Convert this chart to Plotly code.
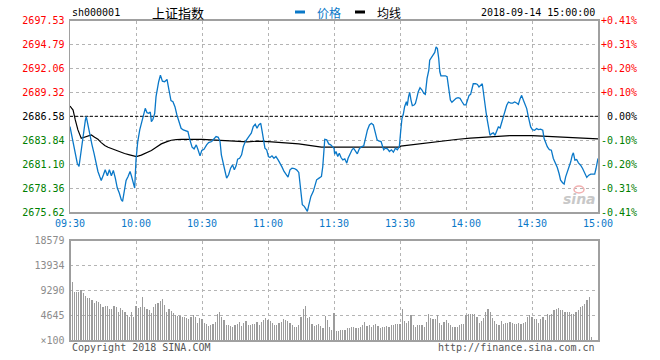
import plotly.graph_objects as go

# ---------------- data ----------------
prev_close = 2686.58
price_ticks = [2675.62, 2678.36, 2681.10, 2683.84, 2686.58, 2689.32, 2692.06, 2694.79, 2697.53]
price_labels = ["2675.62", "2678.36", "2681.10", "2683.84", "2686.58", "2689.32", "2692.06", "2694.79", "2697.53"]
pct_labels = ["-0.41%", "-0.31%", "-0.20%", "-0.10%", "\u00a00.00%", "+0.10%", "+0.20%", "+0.31%", "+0.41%"]
time_ticks = [0, 30, 60, 90, 120, 150, 180, 210, 240]
time_labels = ["09:30", "10:00", "10:30", "11:00", "11:30", "13:30", "14:00", "14:30", "15:00"]
vol_ticks = [0, 4645, 9290, 13934, 18579]
vol_labels = ["×100", "4645", "9290", "13934", "18579"]

# price line (minutes since 09:30 on the trading clock, price)
price_t = [0, 1.4, 2.4, 3.3, 4.1, 4.7, 5.5, 6.2, 7.0, 7.4, 8.2, 9.1, 10, 10.9, 11.8, 12.7, 13.6, 14.2,
           15.2, 16, 17, 17.9, 18.8, 19.7, 20.6, 21.5, 22.4, 23.3, 23.9, 24.5, 25.5, 26.4, 27.3, 27.9,
           28.8, 29.4, 30, 30.8, 31.7, 32.6, 33.5, 34.2, 35, 35.8, 36.5, 37, 37.7, 38.5, 39.1, 39.7,
           40.3, 41.1, 42, 43, 44.1, 45, 45.9, 46.8, 47.7, 48.6, 49.5, 50.5, 51.5, 52.6, 53.6, 54.5,
           55.5, 56.4, 57.4, 58.2, 59.1, 59.9, 60.9, 62.1, 63, 64.4, 65.5, 66.4, 67.4, 68.2, 68.8,
           69.7, 70.5, 71.2, 72.1, 73, 73.9, 74.7, 75.5, 76.2, 77.1, 78, 78.8, 79.7, 80.6, 81.5, 82.4,
           83.3, 84.2, 85, 85.8, 86.7, 87.3, 87.9, 88.6, 89.4, 90.2, 90.9, 91.8, 92.7, 93.6, 94.6,
           95.5, 96.4, 97.3, 98.2, 99.1, 100, 100.9, 102, 103, 104, 104.6, 105, 105.6, 106.5, 107.3,
           107.9, 108.6, 109.5, 110.6, 111.4, 112.1, 113.2, 114.3, 114.9, 115.3, 115.8, 116.7, 117.6,
           118.5, 119.4, 120, 120.3, 120.9, 121.7, 122.4, 123.2, 124, 124.9, 125.8, 126.4, 127.3,
           128.2, 128.9, 129.7, 130.6, 131.5, 132.4, 133.5, 134.3, 135.2, 136.1, 137, 137.9, 138.8,
           139.6, 140.3, 141.4, 142.1, 142.6, 143.3, 144.3, 145.2, 146.1, 147, 147.9, 148.8, 149.7,
           150.3, 150.9, 151.5, 152.1, 152.9, 153.3, 153.9, 154.4, 155, 155.6, 156.4, 157, 157.6,
           158.3, 159.1, 160, 160.8, 161.5, 162.3, 163.1, 163.5, 164.3, 165, 165.8, 166.4, 167,
           167.6, 168.1, 168.6, 170.6, 171.4, 172.1, 172.9, 173.6, 174.6, 175.5, 176.4, 177.3, 178.2,
           179.1, 180, 180.6, 181.4, 182.1, 182.9, 183.3, 184.4, 185.2, 185.9, 186.7, 187.4, 187.9,
           188.5, 189.1, 189.7, 190.3, 190.9, 191.7, 192.4, 193.2, 193.9, 194.7, 195.5, 196.2, 197,
           197.7, 198.5, 199.3, 200.3, 201.2, 202.1, 203, 203.8, 204.6, 205.3, 206.1, 206.8, 207.6,
           208.3, 208.9, 209.4, 210.2, 211.2, 212.1, 213, 213.9, 214.9, 215.5, 216.2, 217, 217.9,
           218.8, 219.7, 220.6, 221.5, 222.3, 223, 223.9, 224.6, 225.3, 226.1, 226.8, 227.6, 228.3,
           228.8, 229.5, 230.3, 231.1, 232.1, 233, 234, 234.9, 235.8, 236.7, 237.6, 238.5, 239.1,
           239.7, 240]
price_v = [2685.40, 2683.69, 2682.36, 2681.21, 2680.83, 2681.97, 2683.50, 2685.02, 2686.16, 2686.54,
           2685.40, 2684.45, 2683.31, 2682.36, 2681.21, 2680.26, 2679.62, 2679.23, 2679.88, 2680.45,
           2679.77, 2680.45, 2679.77, 2680.38, 2679.50, 2678.36, 2677.79, 2677.03, 2676.84, 2677.98,
           2679.23, 2679.69, 2680.26, 2679.77, 2678.85, 2678.36, 2681.59, 2683.69, 2685.02, 2685.97,
           2686.92, 2687.49, 2687.00, 2686.92, 2687.07, 2685.97, 2686.24, 2686.92, 2688.83, 2689.89,
           2690.54, 2691.30, 2690.61, 2690.54, 2690.80, 2689.59, 2688.37, 2688.25, 2687.68, 2686.73,
           2686.09, 2685.21, 2685.02, 2684.94, 2684.83, 2683.88, 2683.04, 2682.85, 2683.31, 2682.74,
           2682.05, 2682.66, 2682.81, 2683.31, 2683.57, 2683.69, 2683.95, 2684.26, 2684.18, 2683.69,
           2682.17, 2680.91, 2680.26, 2679.50, 2679.88, 2680.64, 2681.02, 2680.45, 2680.91, 2681.67,
           2681.78, 2682.17, 2683.12, 2683.69, 2684.07, 2684.34, 2684.64, 2685.40, 2685.67, 2685.21,
           2685.59, 2685.78, 2684.91, 2683.69, 2682.93, 2682.74, 2681.97, 2681.86, 2682.05, 2681.78,
           2681.97, 2681.59, 2681.21, 2680.76, 2680.26, 2679.88, 2679.62, 2680.45, 2680.64, 2680.60,
           2680.45, 2680.15, 2678.63, 2677.79, 2676.46, 2676.27, 2675.96, 2675.70, 2676.46, 2677.41,
           2677.98, 2678.74, 2679.31, 2679.50, 2679.69, 2680.83, 2681.97, 2683.95, 2683.88, 2683.42,
           2683.31, 2683.12, 2682.93, 2682.24, 2682.55, 2681.97, 2682.36, 2681.86, 2681.59, 2681.71,
           2681.21, 2681.78, 2682.36, 2682.74, 2682.93, 2682.55, 2682.28, 2682.85, 2683.08, 2683.19,
           2684.26, 2685.02, 2685.59, 2685.78, 2685.59, 2684.83, 2683.88, 2683.76, 2683.69, 2683.12,
           2682.74, 2682.93, 2682.85, 2682.55, 2682.74, 2682.47, 2682.93, 2682.74, 2683.12, 2684.83,
           2686.35, 2686.81, 2687.68, 2688.25, 2687.80, 2688.83, 2689.32, 2688.44, 2687.80, 2687.87,
           2688.06, 2688.64, 2689.40, 2689.85, 2689.59, 2689.21, 2689.09, 2690.92, 2691.87, 2693.01,
           2693.28, 2693.51, 2693.89, 2694.53, 2694.34, 2693.20, 2691.68, 2691.22, 2691.22, 2691.11,
           2689.78, 2688.44, 2688.18, 2688.44, 2688.64, 2688.71, 2688.64, 2688.25, 2687.90, 2687.90,
           2688.33, 2688.98, 2689.09, 2689.85, 2690.31, 2690.31, 2690.23, 2689.93, 2690.12, 2690.31,
           2689.36, 2687.84, 2687.07, 2686.12, 2685.06, 2684.41, 2684.60, 2684.68, 2684.41, 2684.98,
           2685.36, 2685.25, 2685.82, 2686.50, 2687.26, 2687.84, 2688.22, 2688.10, 2688.10, 2688.22,
           2688.10, 2687.95, 2688.60, 2688.98, 2688.41, 2687.84, 2687.46, 2686.58, 2685.93, 2685.36,
           2685.06, 2684.98, 2685.17, 2685.06, 2685.10, 2684.98, 2684.03, 2683.54, 2683.08, 2682.77,
           2682.70, 2681.75, 2681.25, 2680.72, 2680.03, 2679.27, 2678.97, 2678.82, 2679.65, 2680.22,
           2680.72, 2681.37, 2682.13, 2682.39, 2681.56, 2681.63, 2681.25, 2680.98, 2680.60, 2680.11,
           2679.58, 2679.84, 2679.96, 2679.96, 2679.96, 2680.60, 2681.37, 2681.75]

# average price line
avg_t = [0, 1.4, 2.4, 3.6, 5.1, 6.7, 8.2, 9.7, 11.2, 12.7, 14.2, 15.8, 17.3, 18.8, 20.3, 22.6, 24.8,
         27.1, 29.4, 30.2, 32.4, 34.7, 37, 39.2, 41.5, 43.8, 46, 48.3, 50.6, 60, 65.5, 74.7, 80.6,
         85, 90.2, 97.3, 104, 109.5, 114.3, 120, 149.7, 150.3, 157, 163.5, 170.6, 176.4, 182, 186,
         190, 200, 210, 220, 230, 240]
avg_v = [2687.76, 2687.30, 2686.16, 2685.02, 2684.07, 2684.18, 2684.34, 2684.45, 2684.18, 2683.95,
         2683.57, 2683.23, 2683.04, 2682.89, 2682.74, 2682.51, 2682.32, 2682.17, 2682.05, 2681.97,
         2682.13, 2682.36, 2682.66, 2683.04, 2683.42, 2683.65, 2683.84, 2683.92, 2683.95, 2683.93,
         2683.88, 2683.73, 2683.65, 2683.73, 2683.69, 2683.57, 2683.42, 2683.23, 2683.04, 2683.04,
         2683.04, 2683.16, 2683.38, 2683.61, 2683.80, 2683.95, 2684.07, 2684.14, 2684.22, 2684.37,
         2684.37, 2684.22, 2684.11, 2684.00]

# per-minute volume (x100 shares), minute 0 .. 240
volume = [18579,
          10910, 9040, 9040, 9040, 9350, 8850, 8290, 7920, 7920, 7480,
          6980, 7290, 7170, 6730, 6110, 6420, 6420, 5740, 5740, 6360,
          6110, 5170, 5920, 5610, 5300, 4680, 4240, 5300, 4240, 6360,
          6050, 6230, 8100, 6230, 5800, 5610, 4990, 6110, 6730, 6980,
          7290, 7670, 6550, 5300, 5800, 5420, 4990, 4680, 4490, 4490,
          4240, 4240, 4050, 3870, 4360, 4610, 4360, 3120, 4050, 3870,
          3240, 2930, 2620, 2810, 2930, 3430, 4800, 5300, 4240, 3740,
          2810, 2810, 2680, 2490, 2810, 2990, 3430, 2620, 3120, 3620,
          2810, 2810, 2990, 2930, 3430, 2810, 3430, 3740, 4050, 3740,
          3550, 3120, 2810, 2810, 3120, 3430, 3870, 3740, 3620, 3240,
          2810, 2490, 2490, 2810, 4240, 5800, 6360, 4050, 4240, 2930,
          2620, 2810, 2930, 2620, 2310, 4550, 3740, 2370, 1870, 5110,
          1750, 1750, 1870, 1870, 1870, 2180, 2310, 2370, 2370, 2180,
          2180, 2370, 2810, 3300, 2680, 2810, 2370, 2810, 2990, 2620,
          2180, 2370, 2490, 2680, 2370, 2810, 2810, 2930, 2930, 2990,
          5800, 3620, 3240, 3620, 4680, 2810, 2370, 2810, 2810, 2810,
          2370, 3430, 4800, 4050, 3870, 3870, 4680, 3120, 2810, 3430,
          3740, 3240, 2810, 2490, 2370, 2490, 2810, 2930, 2990, 4680,
          4860, 4860, 4860, 4860, 4300, 3240, 3620, 4050, 5300, 5800,
          5300, 4050, 3620, 2990, 2810, 3620, 2990, 3240, 3120, 3430,
          3240, 2990, 2990, 3240, 2990, 3120, 3430, 4240, 4680, 4240,
          3870, 3870, 3240, 3870, 4240, 3740, 4860, 4680, 4860, 5610,
          5740, 5920, 5610, 5610, 5300, 5300, 5300, 4800, 4800, 5300,
          5610, 6230, 6420, 6730, 7480, 8100, 620, 0, 0, 0]
vol_t = list(range(len(volume)))

# ---------------- styling ----------------
BLUE = "#0a78c8"
RED = "#ff0000"
GREEN = "#008000"
GRID = "#b4b4b4"
FRAME = "#a0a0a0"
MONO = "DejaVu Sans Mono"
W, H = 660, 360
X0, X1 = 70, 598
PY0, PY1 = 20.7, 212
VY0, VY1 = 240.7, 340


def col(v):
    if abs(v - prev_close) < 1e-6:
        return "#000000"
    return RED if v > prev_close else GREEN


left_text = [f"<span style='color:{col(v)}'>{t}</span>" for v, t in zip(price_ticks, price_labels)]
right_text = [f"<span style='color:{col(v)}'>{t}</span>" for v, t in zip(price_ticks, pct_labels)]

fig = go.Figure()
fig.add_trace(go.Scatter(x=[0, 240], y=[prev_close, prev_close], mode="lines",
                         line=dict(color="#000000", width=1, dash="3px,2px"),
                         xaxis="x", yaxis="y", hoverinfo="skip"))
fig.add_trace(go.Scatter(x=avg_t, y=avg_v, mode="lines", line=dict(color="#000000", width=1.2),
                         xaxis="x", yaxis="y"))
fig.add_trace(go.Scatter(x=price_t, y=price_v, mode="lines", line=dict(color=BLUE, width=1.3),
                         xaxis="x", yaxis="y"))
fig.add_trace(go.Scatter(x=[0], y=[prev_close], mode="markers", marker=dict(opacity=0),
                         xaxis="x", yaxis="y2", hoverinfo="skip"))
fig.add_trace(go.Bar(x=vol_t, y=volume, width=0.5, marker=dict(color="#9c9c9c", line=dict(width=0)),
                     xaxis="x2", yaxis="y3"))

xdom = [X0 / W, X1 / W]
axis_common = dict(showline=True, linecolor=FRAME, linewidth=1.5, mirror=True, zeroline=False,
                   showgrid=True, gridcolor=GRID, griddash="dot", gridwidth=1, ticks="",
                   fixedrange=True, automargin=False)

fig.update_layout(
    width=W, height=H, margin=dict(l=0, r=0, t=0, b=0, pad=0, autoexpand=False),
    paper_bgcolor="white", plot_bgcolor="white", showlegend=False,
    font=dict(family=MONO, size=10, color="#000000"),
    xaxis=dict(domain=xdom, anchor="y", range=[0, 240], tickvals=time_ticks, ticktext=time_labels,
               tickfont=dict(color=BLUE, size=10, family=MONO), ticklabelstandoff=1, **axis_common),
    yaxis=dict(domain=[1 - PY1 / H, 1 - PY0 / H], anchor="x", range=[price_ticks[0], price_ticks[-1]],
               tickvals=price_ticks, ticktext=left_text, tickfont=dict(size=10, family=MONO),
               ticklabelstandoff=2, **axis_common),
    yaxis2=dict(domain=[1 - PY1 / H, 1 - PY0 / H], anchor="x", overlaying="y", side="right",
                range=[price_ticks[0], price_ticks[-1]], tickvals=price_ticks, ticktext=right_text,
                tickfont=dict(size=10, family=MONO), showgrid=False, zeroline=False, showline=False,
                ticks="", ticklabelstandoff=2, fixedrange=True, automargin=False),
    xaxis2=dict(domain=xdom, anchor="y3", range=[0, 240], tickvals=time_ticks, showticklabels=False,
                **axis_common),
    yaxis3=dict(domain=[1 - VY1 / H, 1 - VY0 / H], anchor="x2", range=[0, vol_ticks[-1]],
                tickvals=vol_ticks, ticktext=vol_labels, tickfont=dict(color="#8c8c8c", size=10, family=MONO),
                ticklabelstandoff=2, **axis_common),
    bargap=0,
)


def px(x):
    return x / W


def py(y):
    return 1 - y / H


ann = [
    dict(x=px(70), y=py(13), text="sh000001", xanchor="left", yanchor="middle",
         font=dict(family=MONO, size=10, color="#000")),
    dict(x=px(150), y=py(13), text="上证指数", xanchor="left", yanchor="middle",
         font=dict(family="Noto Sans CJK SC", size=13, color="#000")),
    dict(x=px(315), y=py(13), text="价格", xanchor="left", yanchor="middle",
         font=dict(family="Noto Sans CJK SC", size=12, color=BLUE)),
    dict(x=px(375), y=py(13), text="均线", xanchor="left", yanchor="middle",
         font=dict(family="Noto Sans CJK SC", size=12, color="#000")),
    dict(x=px(597), y=py(13), text="2018-09-14 15:00:00", xanchor="right", yanchor="middle",
         font=dict(family=MONO, size=10, color="#000")),
    dict(x=px(70), y=py(347), text="Copyright 2018 SINA.COM", xanchor="left", yanchor="middle",
         font=dict(family=MONO, size=10, color="#555")),
    dict(x=px(597), y=py(347), text="http://finance.sina.com.cn", xanchor="right", yanchor="middle",
         font=dict(family=MONO, size=10, color="#555")),
    dict(x=px(579), y=py(199), text="<i><b>sina</b></i>", xanchor="center", yanchor="middle",
         font=dict(family="DejaVu Sans", size=14, color="#c8c8c8")),
]
for a in ann:
    a.update(xref="paper", yref="paper", showarrow=False)
fig.update_layout(annotations=ann)

fig.update_layout(shapes=[
    dict(type="line", xref="paper", yref="paper", x0=px(295), x1=px(305), y0=py(12), y1=py(12),
         line=dict(color=BLUE, width=3)),
    dict(type="line", xref="paper", yref="paper", x0=px(355), x1=px(365), y0=py(12), y1=py(12),
         line=dict(color="#000", width=3)),
    # pink "eye" of the sina watermark
    dict(type="circle", xref="paper", yref="paper", x0=px(574), x1=px(584), y0=py(193), y1=py(186),
         line=dict(color="#f2b0b0", width=1.5), fillcolor="rgba(0,0,0,0)"),
])

fig.write_html("out.html", config={"displayModeBar": False, "staticPlot": True},
               post_script="document.body.style.margin='0px';document.body.style.padding='0px';")
